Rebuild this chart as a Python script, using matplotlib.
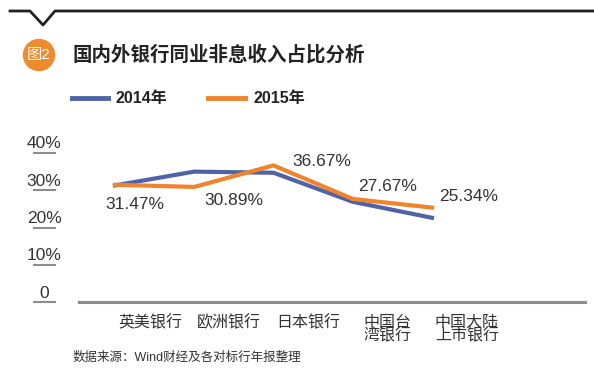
import numpy as np
import matplotlib.pyplot as plt
from matplotlib.lines import Line2D
from matplotlib.patches import Circle
from matplotlib.transforms import IdentityTransform

plt.rcParams['font.family'] = ['Liberation Sans', 'Noto Sans CJK SC', 'DejaVu Sans']

banks = ['英美银行', '欧洲银行', '日本银行', '中国台\n湾银行', '中国大陆\n上市银行']
y2014 = [31.3, 35.0, 34.7, 26.9, 22.6]
y2015 = [31.47, 30.89, 36.67, 27.67, 25.34]
yticks = [0, 10, 20, 30, 40]
ytick_labels = ['0', '10%', '20%', '30%', '40%']
label_offsets = [(20, -20), (40, -14), (48, 4), (35, 12), (37, 11)]

blue = '#4f63a6'
orange = '#f0832c'
grey = '#8c8c8c'
txt = '#333333'

W, H = 594, 385
fig = plt.figure(figsize=(W / 100, H / 100), dpi=100)

# header line with notch
fig.add_artist(Line2D(np.array([10, 30, 43, 55, 594]) / W,
                      1 - np.array([11, 11, 25, 11, 11]) / H,
                      color='#222222', lw=2, transform=fig.transFigure))
fig.add_artist(Circle((39, H - 55), 15.5, color='#f08a2e',
                      transform=IdentityTransform()))
fig.text(39 / W, 1 - 55 / H, '图2', color='white', fontsize=11,
         ha='center', va='center')
fig.text(73 / W, 1 - 55 / H, '国内外银行同业非息收入占比分析', color='#222222',
         fontsize=14, fontweight='bold', ha='left', va='center')

# legend
fig.add_artist(Line2D([72 / W, 108 / W], [1 - 98 / H] * 2, color=blue, lw=3.5,
                      transform=fig.transFigure))
fig.text(116 / W, 1 - 98 / H, '2014年', color='#222222', fontsize=11.5,
         fontweight='bold', va='center')
fig.add_artist(Line2D([208 / W, 245 / W], [1 - 98 / H] * 2, color=orange, lw=3.5,
                      transform=fig.transFigure))
fig.text(253 / W, 1 - 98 / H, '2015年', color='#222222', fontsize=11.5,
         fontweight='bold', va='center')

ax = fig.add_axes([79 / W, 83 / H, 506 / W, 149 / H])
x = np.arange(len(banks))
ax.plot(x, y2014, color=blue, lw=3, solid_joinstyle='round')
ax.plot(x, y2015, color=orange, lw=3, solid_joinstyle='round')
ax.set_xlim(-36 / 79.25, -36 / 79.25 + 506 / 79.25)
ax.set_ylim(0, 40)

for xi, v, off in zip(x, y2015, label_offsets):
    ax.annotate(f'{v:.2f}%', xy=(xi, v), xytext=off, textcoords='offset pixels',
                ha='center', va='center', fontsize=12.5, color=txt)

# y ticks: label sitting above a short underline
for v, lab in zip(yticks, ytick_labels):
    ax.plot([-45 / 506, -24 / 506], [v, v], color=grey, lw=1.5,
            transform=ax.get_yaxis_transform(), clip_on=False)
    ax.annotate(lab, xy=(-35 / 506, v), xycoords=ax.get_yaxis_transform(),
                xytext=(0, 9), textcoords='offset pixels',
                ha='center', va='center', fontsize=12.5, color=txt)

ax.set_yticks([])
ax.set_xticks(x + 0.44)
ax.set_xticklabels(banks, fontsize=11.5, color=txt, linespacing=0.85)
ax.tick_params(axis='x', length=0, pad=9)
for s in ['top', 'right', 'left']:
    ax.spines[s].set_visible(False)
ax.spines['bottom'].set_color(grey)
ax.spines['bottom'].set_linewidth(2.2)

fig.text(73 / W, 1 - 358 / H, '数据来源：Wind财经及各对标行年报整理', color=txt,
         fontsize=9, va='center')

fig.savefig('out.png', dpi=100)
